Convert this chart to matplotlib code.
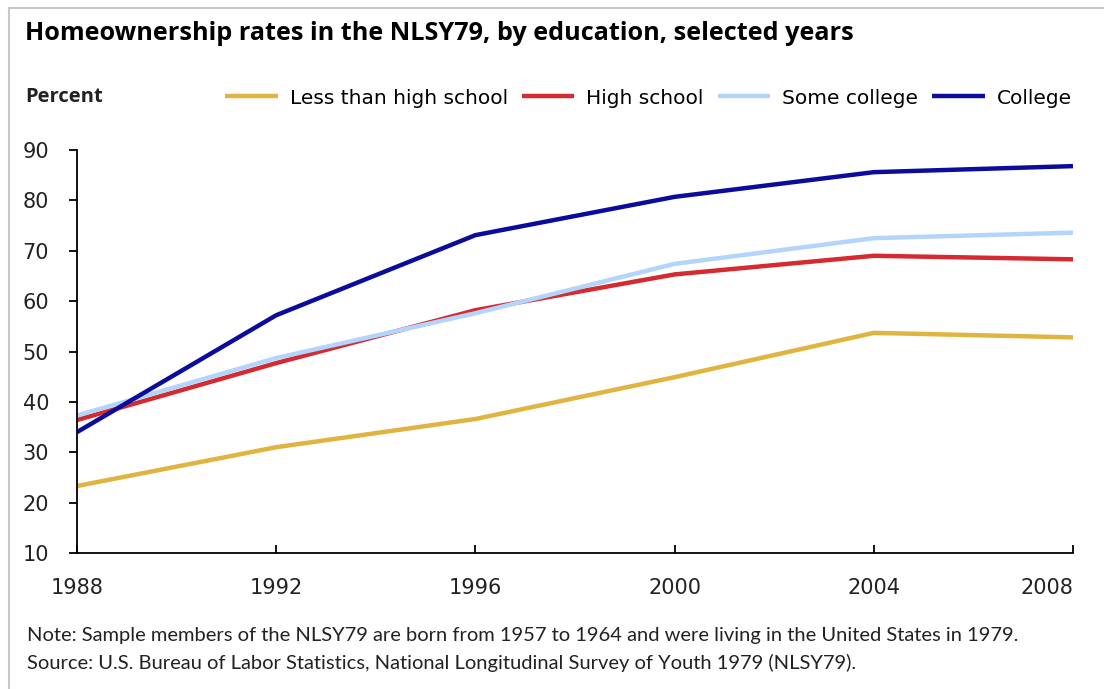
import matplotlib.pyplot as plt
from matplotlib.lines import Line2D

# Datos (porcentaje de propietarios de vivienda)
years = [1988, 1992, 1996, 2000, 2004, 2008]
less_hs = [23.3, 31.0, 36.6, 44.9, 53.7, 52.8]
high_school = [36.4, 47.7, 58.2, 65.3, 69.0, 68.3]
some_college = [37.3, 48.7, 57.6, 67.4, 72.5, 73.6]
college = [34.0, 57.2, 73.1, 80.7, 85.6, 86.8]

series_names = ['Less than high school', 'High school', 'Some college', 'College']
colores = ['#E1B441', '#D42A30', '#B3D5FC', '#0C0C9C']

fig = plt.figure(figsize=(11.04, 6.89), dpi=100)
ax = fig.add_axes([77/1104, 1 - 553/689, (1073 - 77)/1104, (553 - 150)/689])

for serie, nombre, c in zip([less_hs, high_school, some_college, college],
                            series_names, colores):
    ax.plot(years, serie, color=c, lw=3.2, label=nombre, solid_capstyle='butt')

ax.set_xlim(1988, 2008)
ax.set_ylim(10, 90)
ax.set_xticks(years)
ax.set_yticks(range(10, 100, 10))
for s in ['top', 'right']:
    ax.spines[s].set_visible(False)
for s in ['left', 'bottom']:
    ax.spines[s].set_linewidth(1.3)
ax.tick_params(axis='y', direction='out', length=6, width=1.3, pad=14,
               labelsize=15, labelcolor='#222222')
ax.tick_params(axis='x', direction='in', length=6, width=1.3, pad=18,
               labelsize=15, labelcolor='#222222')
etiquetas = ax.get_xticklabels()
etiquetas[-1].set_horizontalalignment('right')

# Título, etiqueta del eje y notas
fig.text(25/1104, 1 - 33/689, 'Homeownership rates in the NLSY79, by education, selected years',
         fontsize=18.2, fontweight='bold', family='Open Sans', va='center', ha='left')
fig.text(25/1104, 1 - 97/689, 'Percent', fontsize=14.5, fontweight='bold',
         family='Open Sans', va='center', ha='left', color='#222222')
fig.text(27/1104, 1 - 635/689,
         'Note: Sample members of the NLSY79 are born from 1957 to 1964 and were living in the United States in 1979.',
         fontsize=14.5, family='Lato', va='center', ha='left', color='#222222')
fig.text(27/1104, 1 - 663/689,
         'Source: U.S. Bureau of Labor Statistics, National Longitudinal Survey of Youth 1979 (NLSY79).',
         fontsize=14.5, family='Lato', va='center', ha='left', color='#222222')

fig.legend(loc='center right', bbox_to_anchor=(1072/1104, 1 - 98/689), ncol=4,
           frameon=False, fontsize=14.5, handlelength=2.6, handletextpad=0.6,
           columnspacing=0.7, borderpad=0, borderaxespad=0)

# Borde gris del recuadro
fig.add_artist(Line2D([9/1104, 9/1104], [0, 1 - 8/689], color='#C8C8C8', lw=1.5))
fig.add_artist(Line2D([9/1104, 1], [1 - 8/689, 1 - 8/689], color='#C8C8C8', lw=1.5))

fig.savefig('out.png', dpi=100)
